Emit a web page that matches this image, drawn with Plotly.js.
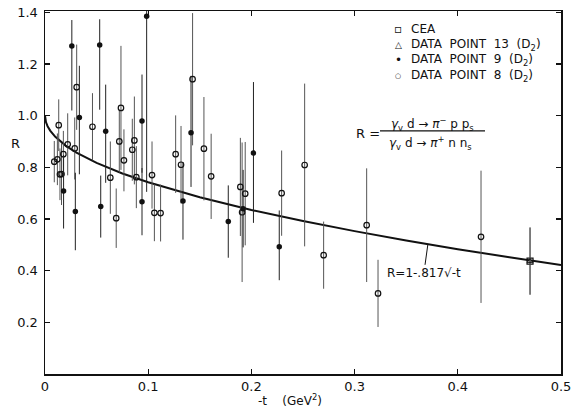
<!DOCTYPE html>
<html>
<head>
<meta charset="utf-8">
<script src="https://cdn.plot.ly/plotly-3.0.1.min.js"></script>
<style>html,body{margin:0;padding:0;background:#fff;}#chart{width:573px;height:409px;}</style>
</head>
<body>
<div id="chart"></div>
<script>
// DATA POINT 8 (D2) — open circles
const dp8T = [0.009,0.012,0.0133,0.0145,0.016,0.0178,0.022,0.0288,0.0307,0.046,0.0633,0.069,0.072,0.0736,0.0765,0.0846,0.0866,0.0885,0.1037,0.106,0.112,0.1266,0.1318,0.143,0.154,0.161,0.1893,0.191,0.194,0.2293,0.2516,0.27,0.3117,0.3227,0.4225];
const dp8R = [0.822,0.831,0.963,0.773,0.774,0.851,0.889,0.873,1.11,0.957,0.76,0.603,0.90,1.03,0.827,0.868,0.904,0.762,0.77,0.624,0.623,0.851,0.81,1.141,0.872,0.765,0.724,0.626,0.698,0.70,0.809,0.46,0.576,0.312,0.531];
const dp8Err = [0.08,0.10,0.10,0.10,0.12,0.09,0.12,0.12,0.165,0.13,0.14,0.115,0.12,0.24,0.12,0.12,0.17,0.12,0.13,0.11,0.11,0.15,0.15,0.256,0.20,0.165,0.19,0.27,0.20,0.165,0.315,0.13,0.22,0.13,0.256];

// DATA POINT 9 (D2) — filled circles
const dp9T = [0.018,0.026,0.0294,0.0333,0.053,0.054,0.0588,0.094,0.094,0.0985,0.1337,0.1415,0.1776,0.192,0.202,0.227];
const dp9R = [0.708,1.27,0.629,0.993,1.273,0.648,0.94,0.979,0.667,1.385,0.67,0.934,0.59,0.64,0.855,0.493];
const dp9ErrPlus  = [0.14,0.10,0.15,0.20,0.10,0.12,0.18,0.18,0.13,0.30,0.15,0.22,0.14,0.15,0.275,0.14];
const dp9ErrMinus = [0.145,0.25,0.15,0.22,0.25,0.12,0.20,0.20,0.13,0.68,0.15,0.21,0.14,0.15,0.27,0.13];

// DATA POINT 13 (D2) — open triangle
const dp13T = [0.47];
const dp13R = [0.437];
const dp13Err = [0.13];

// CEA — open square
const ceaT = [0.47];
const ceaR = [0.437];
const ceaErr = [0.13];

// Fit curve R = 1 - .817 sqrt(-t)
const fitT = [0,0.0005,0.001,0.0025,0.005,0.01,0.02,0.03,0.05,0.075,0.1,0.15,0.2,0.25,0.3,0.35,0.4,0.45,0.5];
const fitR = [1.0,0.982,0.974,0.959,0.942,0.918,0.884,0.858,0.817,0.776,0.742,0.684,0.635,0.592,0.553,0.517,0.483,0.452,0.422];

// Tick labels
const xTickVals = [0,0.1,0.2,0.3,0.4,0.5];
const xTickText = ['0','0.1','0.2','0.3','0.4','0.5'];
const yTickVals = [0.2,0.4,0.6,0.8,1.0,1.2,1.4];
const yTickText = ['0.2','0.4','0.6','0.8','1.0','1.2','1.4'];

const FONT = 'DejaVu Sans, Liberation Sans, sans-serif';
const barCol = '#555';

const traces = [
  {x: fitT, y: fitR, mode:'lines', line:{color:'#111', width:2}, hoverinfo:'skip', name:'fit'},
  {x: dp8T, y: dp8R, mode:'markers', name:'DATA POINT 8 (D2)',
   marker:{symbol:'circle-open', size:5.5, color:'#111', line:{width:1.2, color:'#111'}},
   error_y:{type:'data', array: dp8Err, visible:true, width:0, thickness:1, color:barCol}},
  {x: dp9T, y: dp9R, mode:'markers', name:'DATA POINT 9 (D2)',
   marker:{symbol:'circle', size:5.5, color:'#111'},
   error_y:{type:'data', symmetric:false, array: dp9ErrPlus, arrayminus: dp9ErrMinus, visible:true, width:0, thickness:1, color:'#222'}},
  {x: ceaT, y: ceaR, mode:'markers', name:'CEA',
   marker:{symbol:'square-open', size:6, color:'#111', line:{width:1.2}},
   error_y:{type:'data', array: ceaErr, visible:true, width:0, thickness:1, color:barCol}},
  {x: dp13T, y: dp13R, mode:'markers', name:'DATA POINT 13 (D2)',
   marker:{symbol:'triangle-up-open', size:5, color:'#111', line:{width:1}},
   error_y:{type:'data', array: dp13Err, visible:true, width:0, thickness:1, color:barCol}}
];

function px2x(p){ return (p-45)/516; }
function px2y(p){ return (374.5-p)/363.5; }

const legRows = [
  {sym:'▫', txt:'CEA', y:29.3, fs:12},
  {sym:'△', txt:'DATA  POINT  13  (D<sub>2</sub>)', y:44.7, fs:9},
  {sym:'•', txt:'DATA  POINT  9  (D<sub>2</sub>)', y:60.3, fs:12},
  {sym:'○', txt:'DATA  POINT  8  (D<sub>2</sub>)', y:75.7, fs:7}
];
const annotations = [];
legRows.forEach(r => {
  annotations.push({xref:'paper', yref:'paper', x:px2x(398), y:px2y(r.y), text:r.sym, showarrow:false,
    xanchor:'center', yanchor:'middle', font:{family:FONT, size:r.fs, color:'#111'}});
  annotations.push({xref:'paper', yref:'paper', x:px2x(409), y:px2y(r.y), text:r.txt, showarrow:false,
    xanchor:'left', yanchor:'middle', font:{family:FONT, size:12, color:'#111'}});
});
annotations.push(
  {xref:'paper', yref:'paper', x:px2x(368), y:px2y(134), text:'R =', showarrow:false, xanchor:'center', yanchor:'middle', font:{family:FONT, size:13, color:'#111'}},
  {xref:'paper', yref:'paper', x:px2x(432), y:px2y(124), text:'<i>γ</i><sub>v</sub> d → <i>π</i><sup>−</sup> p p<sub>s</sub>', showarrow:false, xanchor:'center', yanchor:'middle', font:{family:FONT, size:12, color:'#111'}},
  {xref:'paper', yref:'paper', x:px2x(430), y:px2y(143), text:'<i>γ</i><sub>v</sub> d → <i>π</i><sup>+</sup> n n<sub>s</sub>', showarrow:false, xanchor:'center', yanchor:'middle', font:{family:FONT, size:12, color:'#111'}},
  {xref:'paper', yref:'paper', x:px2x(15), y:px2y(144), text:'R', showarrow:false, xanchor:'center', yanchor:'middle', font:{family:FONT, size:13, color:'#111'}},
  {xref:'paper', yref:'paper', x:px2x(290), y:px2y(401), text:'-t    (GeV<sup>2</sup>)', showarrow:false, xanchor:'center', yanchor:'middle', font:{family:FONT, size:12, color:'#111'}},
  {xref:'x', yref:'y', x:0.371, y:0.502, text:'R=1-.817√-t', showarrow:true, arrowhead:0, arrowwidth:1, arrowcolor:'#111',
   ax:-4, ay:29, standoff:0, font:{family:FONT, size:12, color:'#111'}}
);

const layout = {
  width:573, height:409,
  margin:{l:45, r:12, t:11, b:34.5},
  paper_bgcolor:'#fff', plot_bgcolor:'#fff',
  showlegend:false,
  font:{family:FONT, size:12, color:'#111'},
  xaxis:{range:[0,0.5], tickvals:xTickVals, ticktext:xTickText, ticks:'inside', ticklen:5, tickwidth:1.2, tickcolor:'#111',
    showline:true, linecolor:'#111', linewidth:1.5, mirror:'ticks', showgrid:false, zeroline:false,
    tickfont:{family:FONT, size:13, color:'#111'}},
  yaxis:{range:[0,1.405], tickvals:yTickVals, ticktext:yTickText, ticks:'inside', ticklen:5, tickwidth:1.2, tickcolor:'#111',
    showline:true, linecolor:'#111', linewidth:1.5, mirror:'ticks', showgrid:false, zeroline:false,
    tickfont:{family:FONT, size:13, color:'#111'}, ticklabelstandoff:3},
  shapes:[{type:'line', xref:'paper', yref:'paper', x0:px2x(380), x1:px2x(485), y0:px2y(131), y1:px2y(131), line:{color:'#111', width:1.2}}],
  annotations: annotations
};

Plotly.newPlot('chart', traces, layout, {staticPlot:true, displayModeBar:false});
</script>
</body>
</html>
